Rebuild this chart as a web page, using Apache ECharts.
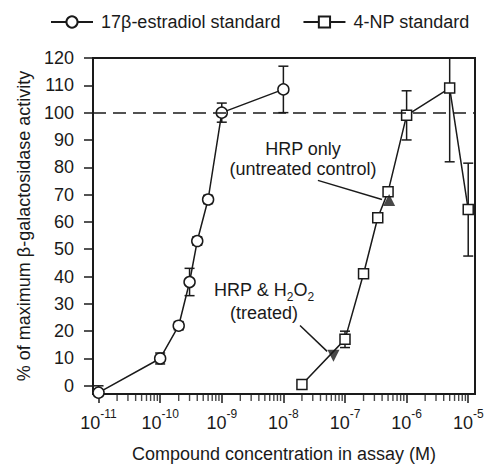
<!DOCTYPE html>
<html>
<head>
<meta charset="utf-8">
<script src="https://cdn.jsdelivr.net/npm/echarts@6/dist/echarts.min.js"></script>
<style>
  html, body { margin: 0; padding: 0; background: #fff; }
  #chart { width: 484px; height: 466px; }
</style>
</head>
<body>
<div id="chart"></div>
<script>
// 17beta-estradiol standard
const estConc = [1e-11, 1e-10, 2e-10, 3e-10, 4e-10, 6e-10, 1e-9, 1e-8];
const estVal = [-2.5, 10, 22, 38, 53, 68.2, 100, 108.5];
const estErr = [2.5, 2, 1.5, 5, 1.5, 1.5, 3.5, 8.5];

// 4-NP standard
const npConc = [2e-8, 1e-7, 2e-7, 3.4e-7, 5e-7, 1e-6, 5e-6, 1e-5];
const npVal = [0.5, 17, 41, 61.5, 71, 99, 109, 64.5];
const npErr = [0, 3, 0, 0, 0, 9, 27, 17];

// HRP samples
const hrpOnly = [[5.2e-7, 68]];
const hrpTreated = [[6.5e-8, 11]];

const xDecades = [-11, -10, -9, -8, -7, -6, -5];
const yTicks = [0, 10, 20, 30, 40, 50, 60, 70, 80, 90, 100, 110, 120];
const xMin = -11.09;
const xMax = -4.89;
const yMin = -3;
const yMax = 120;

const font = 'Liberation Sans, Arial, sans-serif';
const ink = '#1a1a1a';

const lg = v => Math.log10(v);
const pts = (conc, vals) => conc.map((c, i) => [lg(c), vals[i]]);
const errPts = (conc, vals, errs) =>
  conc.map((c, i) => [lg(c), vals[i], errs[i]]).filter(d => d[2] > 0);

// minor log ticks (2..9 inside each decade), placed on the x axis
const minorTicks = [];
for (let i = 0; i < xDecades.length - 1; i++) {
  for (let k = 2; k <= 9; k++) minorTicks.push([xDecades[i] + Math.log10(k), yMin]);
}

function renderErr(params, api) {
  const x = api.value(0);
  const y = api.value(1);
  const e = api.value(2);
  const top = api.coord([x, y + e]);
  const bot = api.coord([x, y - e]);
  const hw = 5;
  const style = { stroke: ink, lineWidth: 1.5 };
  return {
    type: 'group',
    children: [
      { type: 'line', shape: { x1: top[0], y1: top[1], x2: bot[0], y2: bot[1] }, style },
      { type: 'line', shape: { x1: top[0] - hw, y1: top[1], x2: top[0] + hw, y2: top[1] }, style },
      { type: 'line', shape: { x1: bot[0] - hw, y1: bot[1], x2: bot[0] + hw, y2: bot[1] }, style },
    ],
  };
}

const chart = echarts.init(document.getElementById('chart'), null, { renderer: 'svg' });

const lineStyleCommon = { color: ink, width: 1.5 };
const markerStyle = { color: '#fff', borderColor: ink, borderWidth: 1.5 };

chart.setOption({
  animation: false,
  textStyle: { fontFamily: font, color: ink },
  legend: {
    data: ['17β-estradiol standard', '4-NP standard'],
    left: 45,
    top: 8,
    itemWidth: 42,
    itemHeight: 14,
    itemGap: 22,
    textStyle: { fontSize: 18, color: ink, fontFamily: font, padding: [0, 0, 0, 3] },
  },
  grid: {
    left: 93, right: 9, top: 58, bottom: 72,
    outerBoundsMode: 'none',
    containLabel: false,
    show: true, borderColor: ink, borderWidth: 2,
  },
  xAxis: {
    type: 'value',
    min: xMin,
    max: xMax,
    name: 'Compound concentration in assay (M)',
    nameLocation: 'middle',
    nameGap: 51,
    nameTextStyle: { fontSize: 18, color: ink, fontFamily: font },
    axisLine: { show: true, onZero: false, lineStyle: { color: ink, width: 2 } },
    axisTick: { show: true, customValues: xDecades, length: 9, lineStyle: { color: ink, width: 1.5 } },
    axisLabel: {
      customValues: xDecades,
      margin: 14,
      formatter: v => '{b|10}{s|' + v + '}',
      rich: {
        b: { fontSize: 18, color: ink, fontFamily: font, lineHeight: 24, verticalAlign: 'bottom' },
        s: { fontSize: 12, color: ink, fontFamily: font, lineHeight: 24, verticalAlign: 'top', padding: [0, 0, 10, 0] },
      },
    },
    splitLine: { show: false },
  },
  yAxis: {
    type: 'value',
    min: yMin,
    max: yMax,
    name: '% of maximum β-galactosidase activity',
    nameLocation: 'middle',
    nameGap: 59,
    nameTextStyle: { fontSize: 18, color: ink, fontFamily: font },
    axisLine: { show: true, lineStyle: { color: ink, width: 2 } },
    axisTick: { show: true, customValues: yTicks, length: 9, lineStyle: { color: ink, width: 1.5 } },
    axisLabel: { customValues: yTicks, margin: 19, fontSize: 18, color: ink, fontFamily: font },
    splitLine: { show: false },
  },
  graphic: [
    {
      type: 'text', x: 303, y: 149,
      style: { text: 'HRP only', font: '18px ' + font, fill: ink, align: 'center', verticalAlign: 'middle' },
    },
    {
      type: 'text', x: 303, y: 169,
      style: { text: '(untreated control)', font: '18px ' + font, fill: ink, align: 'center', verticalAlign: 'middle' },
    },
    {
      type: 'text', x: 264, y: 292,
      style: {
        text: '{a|HRP & H}{s|2}{a|O}{s|2}',
        align: 'center', verticalAlign: 'middle',
        rich: {
          a: { fontSize: 18, fontFamily: font, fill: ink, color: ink, lineHeight: 22, verticalAlign: 'top' },
          s: { fontSize: 12, fontFamily: font, fill: ink, color: ink, lineHeight: 22, verticalAlign: 'bottom', padding: [10, 0, 0, 0] },
        },
      },
    },
    {
      type: 'text', x: 264, y: 313,
      style: { text: '(treated)', font: '18px ' + font, fill: ink, align: 'center', verticalAlign: 'middle' },
    },
  ],
  series: [
    {
      type: 'scatter',
      data: minorTicks,
      symbol: 'rect',
      symbolSize: [1.4, 6],
      symbolOffset: [0, 4],
      itemStyle: { color: ink },
      clip: false,
      silent: true,
      z: 1,
    },
    {
      type: 'custom',
      renderItem: renderErr,
      data: errPts(estConc, estVal, estErr),
      clip: true,
      z: 1,
      silent: true,
    },
    {
      type: 'custom',
      renderItem: renderErr,
      data: errPts(npConc, npVal, npErr),
      clip: true,
      z: 1,
      silent: true,
    },
    {
      name: '17β-estradiol standard',
      type: 'line',
      data: pts(estConc, estVal),
      symbol: 'circle',
      symbolSize: 11,
      showAllSymbol: true,
      lineStyle: lineStyleCommon,
      itemStyle: markerStyle,
      z: 3,
      markLine: {
        silent: true,
        symbol: 'none',
        label: { show: false },
        lineStyle: { color: ink, width: 1.5, type: [13, 7] },
        data: [{ yAxis: 100 }],
      },
    },
    {
      name: '4-NP standard',
      type: 'line',
      data: pts(npConc, npVal),
      symbol: 'rect',
      symbolSize: 10,
      showAllSymbol: true,
      lineStyle: lineStyleCommon,
      itemStyle: markerStyle,
      z: 3,
      markLine: {
        silent: true,
        symbol: ['none', 'arrow'],
        symbolSize: [0, 9],
        label: { show: false },
        lineStyle: { color: ink, width: 1.5, type: 'solid' },
        data: [
          [{ coord: [-7.44, 75.2] }, { coord: [-6.40, 68.2] }],
          [{ coord: [-7.73, 22.1] }, { coord: [-7.29, 12.6] }],
        ],
      },
    },
    {
      type: 'scatter',
      data: hrpOnly.map(d => [lg(d[0]), d[1]]),
      symbol: 'triangle',
      symbolSize: 12,
      itemStyle: { color: ink },
      z: 4,
    },
    {
      type: 'scatter',
      data: hrpTreated.map(d => [lg(d[0]), d[1]]),
      symbol: 'triangle',
      symbolRotate: 180,
      symbolSize: 12,
      itemStyle: { color: ink },
      z: 4,
    },
  ],
});
</script>
</body>
</html>
